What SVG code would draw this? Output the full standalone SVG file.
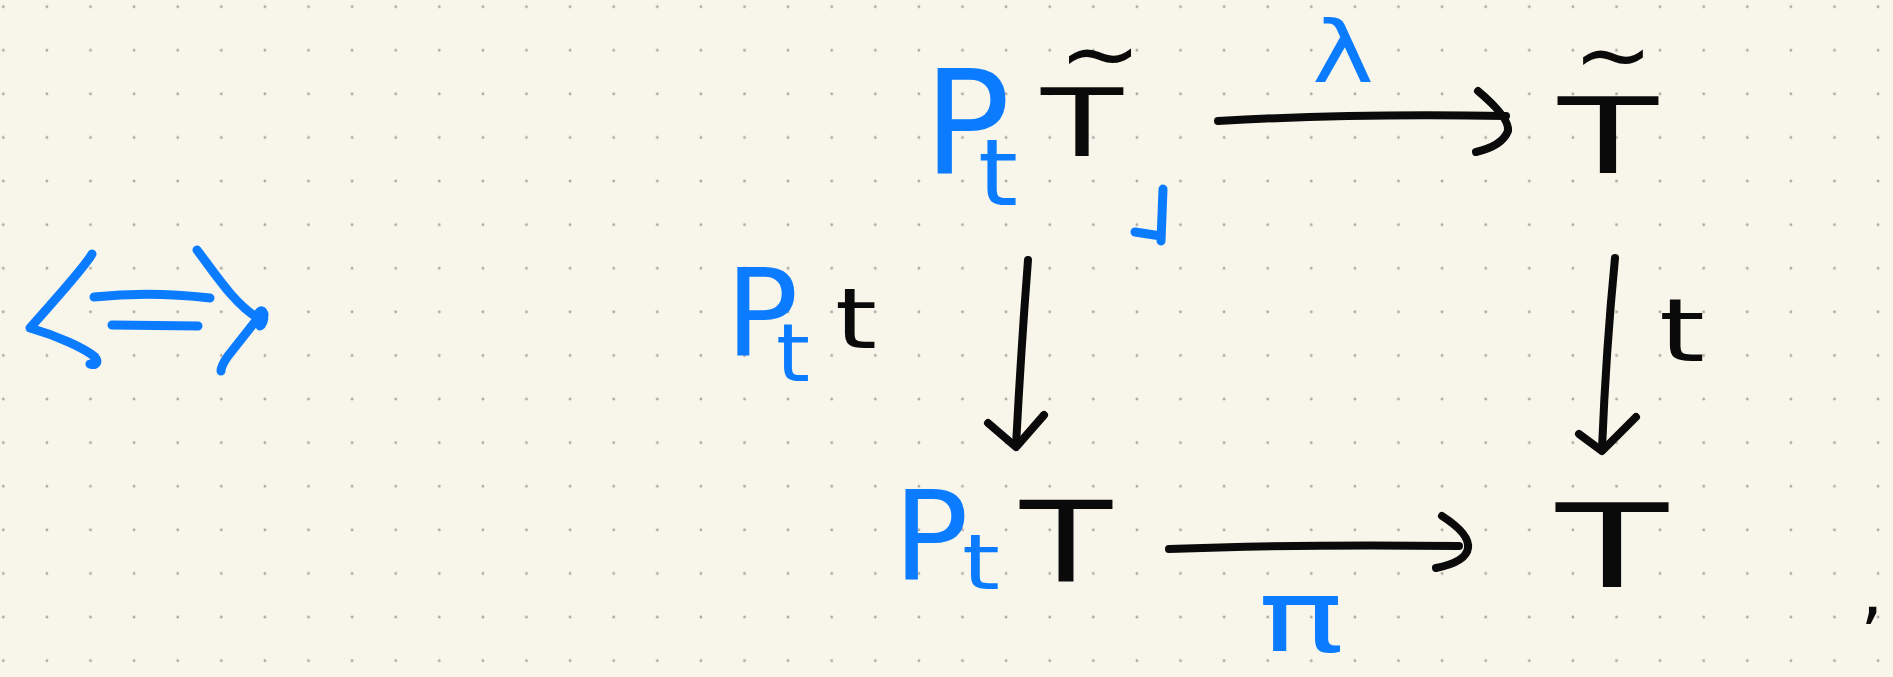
<svg xmlns="http://www.w3.org/2000/svg" width="1893" height="677" viewBox="0 0 1893 677">
  <defs>
    <pattern id="dots" x="-18.5" y="-15.1" width="43.6" height="43.6" patternUnits="userSpaceOnUse">
      <circle cx="21.8" cy="21.8" r="1.4" fill="#a9a8a1"/>
    </pattern>
    <style>
      text { font-family: "DejaVu Sans", "Liberation Sans", sans-serif; text-anchor: middle; }
      .blue { fill: #0b7cff; }
      .ink { fill: #0a0a0a; }
      .stroke-ink { fill: none; stroke: #0a0a0a; stroke-width: 8; stroke-linecap: round; stroke-linejoin: round; }
      .stroke-blue { fill: none; stroke: #0b7cff; stroke-width: 9; stroke-linecap: round; stroke-linejoin: round; }
    </style>
  </defs>

  <!-- dotted notebook paper -->
  <rect width="1893" height="677" fill="#f8f6eb"/>
  <rect width="1893" height="677" fill="url(#dots)"/>

  <!-- equivalence sign -->
  <g id="iff">
    <path class="stroke-blue" d="M92,254 C84,268 58,296 30,328 C58,336 84,348 95,357 C99,362 96,366 90,364"/>
    <path class="stroke-blue" d="M94,297 Q150,291 210,298"/>
    <path class="stroke-blue" d="M112,325 L198,326"/>
    <path class="stroke-blue" d="M197,250 C214,272 234,304 258,318 L228,356 Q221,366 221,371"/>
    <path class="stroke-blue" d="M256,318 Q261,306 264,314 Q264,324 260,326"/>
  </g>

  <!-- top-left object: P_t T~ -->
  <g id="node-PtTtilde">
    <text class="blue" font-size="144"><tspan x="967" y="173">P</tspan><tspan x="998" y="205" font-size="92" textLength="40" lengthAdjust="spacingAndGlyphs">t</tspan><tspan class="ink" x="1082" y="156" font-size="94" textLength="82" lengthAdjust="spacingAndGlyphs">T</tspan><tspan class="ink" x="1100" y="85" font-size="90" textLength="83" lengthAdjust="spacingAndGlyphs">~</tspan></text>
  </g>

  <!-- top-right object: T~ -->
  <g id="node-Ttilde">
    <text class="ink" font-size="105"><tspan x="1608" y="173" textLength="100" lengthAdjust="spacingAndGlyphs">T</tspan><tspan x="1613" y="86" font-size="90" textLength="80" lengthAdjust="spacingAndGlyphs">~</tspan></text>
  </g>

  <!-- bottom-left object: P_t T -->
  <g id="node-PtT">
    <text class="blue" font-size="125"><tspan x="931" y="580">P</tspan><tspan x="981" y="589" font-size="76" textLength="38" lengthAdjust="spacingAndGlyphs">t</tspan><tspan class="ink" x="1066" y="582" font-size="112" textLength="92" lengthAdjust="spacingAndGlyphs">T</tspan></text>
  </g>

  <!-- bottom-right object: T -->
  <g id="node-T">
    <text class="ink" font-size="115"><tspan x="1612" y="587" textLength="112" lengthAdjust="spacingAndGlyphs">T</tspan><tspan x="1872" y="616" font-size="72">,</tspan></text>
  </g>

  <!-- arrows -->
  <g id="connectors">
    <!-- lambda : P_t T~ -> T~ -->
    <path class="stroke-ink" d="M1218,121 Q1360,113 1506,116"/>
    <path class="stroke-ink" d="M1478,91 Q1510,118 1508,131 Q1502,146 1476,152"/>
    <!-- P_t t : P_t T~ -> P_t T -->
    <path class="stroke-ink" d="M1028,260 Q1021,350 1016,446"/>
    <path class="stroke-ink" d="M988,423 L1016,447 L1044,415"/>
    <!-- t : T~ -> T -->
    <path class="stroke-ink" d="M1615,258 Q1606,350 1602,449"/>
    <path class="stroke-ink" d="M1579,434 L1602,451 L1636,417"/>
    <!-- pi : P_t T -> T -->
    <path class="stroke-ink" d="M1169,549 Q1300,544 1459,546"/>
    <path class="stroke-ink" d="M1442,516 Q1470,534 1468,548 Q1466,562 1436,568"/>
  </g>

  <!-- arrow labels -->
  <g id="label-lambda">
    <text class="blue" x="1343" y="82" font-size="86" textLength="62" lengthAdjust="spacingAndGlyphs">λ</text>
  </g>
  <g id="label-Ptt">
    <text class="blue" font-size="121"><tspan x="762" y="356">P</tspan><tspan x="793" y="381" font-size="80" textLength="34" lengthAdjust="spacingAndGlyphs">t</tspan><tspan class="ink" x="856" y="348" font-size="84" textLength="42" lengthAdjust="spacingAndGlyphs">t</tspan></text>
  </g>
  <g id="label-t">
    <text class="ink" x="1682" y="361" font-size="87" textLength="46" lengthAdjust="spacingAndGlyphs">t</text>
  </g>
  <g id="label-pi">
    <text class="blue" x="1301" y="652" font-size="100" textLength="86" lengthAdjust="spacingAndGlyphs">π</text>
  </g>

  <!-- pullback corner -->
  <g id="pullback-mark">
    <path class="stroke-blue" d="M1163,189 L1161,241 M1135,232 L1161,236"/>
  </g>
</svg>
